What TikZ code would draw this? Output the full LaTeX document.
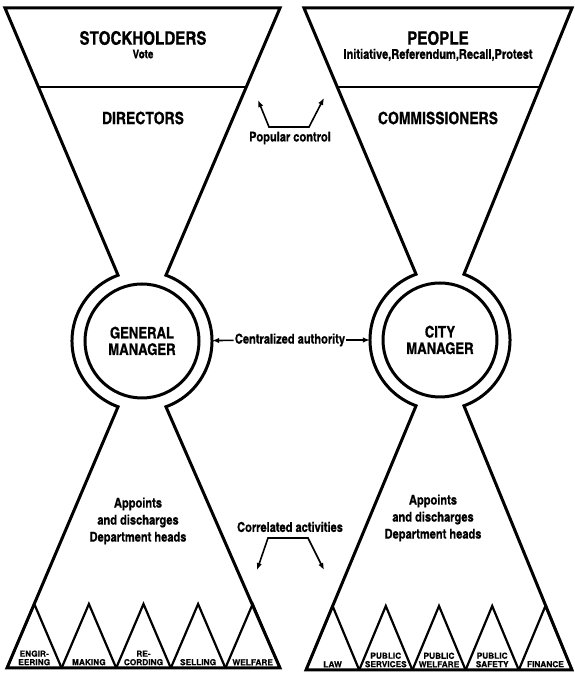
\documentclass[tikz,border=0pt]{standalone}
\usepackage{fontspec}
\setmainfont{TeX Gyre Heros}[FakeBold=0.4]
\newfontfamily\cnd{texgyreheroscn-bold.otf}[FakeBold=0.6]
\usetikzlibrary{arrows.meta, positioning, calc}
\tikzstyle{outline}=[line width=3pt, line join=miter]
\tikzstyle{bar}=[line width=2.4pt]
\tikzstyle{dept}=[line width=2.2pt, line join=miter]
\tikzstyle{arw}=[line width=1.6pt]
\tikzstyle{hub}=[circle, minimum size=140pt, inner sep=0pt]
\tikzstyle{ring}=[circle, draw, line width=3pt, minimum size=114pt, inner sep=0pt,
  font={\cnd\fontsize{16}{16.5}\selectfont}]
\tikzstyle{every node}=[font={\cnd\fontsize{13.5}{14}\selectfont}, align=center, inner sep=1pt]
\tikzstyle{head}=[font={\cnd\fontsize{18.5}{18}\selectfont}]
\tikzstyle{sub}=[font={\cnd\fontsize{17}{16}\selectfont}]
\tikzstyle{note}=[font={\cnd\fontsize{13.5}{17}\selectfont}]
\tikzstyle{lab}=[font={\bfseries\fontsize{8.3}{8.5}\selectfont}, anchor=south, inner sep=0pt]

\begin{document}
\begin{tikzpicture}[x=1pt, y=1pt, >={Latex[length=7pt,width=5.5pt]}]
  \useasboundingbox (0,0) rectangle (574,677);

  % company
  \coordinate (gmc) at (142,336);
  \node[hub] (gmo) at (gmc) {};
  \node[ring] (gm) at (gmc) {GENERAL\\MANAGER};
  \coordinate (st1) at (5,669);
  \coordinate (st2) at (280,669);
  \coordinate (gm1) at ($(gmc)+(110:70)$);
  \coordinate (gm2) at ($(gmc)+(70:70)$);
  \coordinate (gm3) at ($(gmc)+(-70:70)$);
  \draw[outline] (st1) -- (gm1) arc[start angle=110, end angle=250, radius=70]
    -- (7,9) -- (280,9) -- (gm3) arc[start angle=-70, end angle=70, radius=70]
    -- (st2) -- cycle;
  \draw[bar] ($(st1)!.296!(gm1)$) -- ($(st2)!.296!(gm2)$);
  \node[head] (stock) at (143,639) {STOCKHOLDERS};
  \node[below of=stock, node distance=16pt, font={\cnd\fontsize{12}{12}\selectfont}] (vote) {Vote};
  \node[sub] (dir) at (143,559) {DIRECTORS};
  \node[note] (appt1) at (138,156) {Appoints\\and discharges\\Department heads};
  \foreach \i/\t in {0/{ENGIR-\\EERING}, 1/MAKING, 2/{RE-\\CORDING}, 3/SELLING, 4/WELFARE} {
    \draw[dept] ({7+54.6*\i},9) -- ({34.3+54.6*\i},73) -- ({61.6+54.6*\i},9);
    \node[lab] at ({34.3+54.6*\i},11.5) {\t};
  }

  % city
  \coordinate (cmc) at (440,337);
  \node[hub] (cmo) at (cmc) {};
  \node[ring] (cm) at (cmc) {CITY\\MANAGER};
  \coordinate (pp1) at (304,669);
  \coordinate (pp2) at (572,669);
  \coordinate (cm1) at ($(cmc)+(110:70)$);
  \coordinate (cm2) at ($(cmc)+(70:70)$);
  \coordinate (cm3) at ($(cmc)+(-70:70)$);
  \draw[outline] (pp1) -- (cm1) arc[start angle=110, end angle=250, radius=70]
    -- (306,7) -- (572,7) -- (cm3) arc[start angle=-70, end angle=70, radius=70]
    -- (pp2) -- cycle;
  \draw[bar] ($(pp1)!.296!(cm1)$) -- ($(pp2)!.296!(cm2)$);
  \node[head] (people) at (438,639) {PEOPLE};
  \node[below of=people, node distance=17pt] (rights) {Initiative,Referendum,Recall,Protest};
  \node[sub] (comm) at (438,559) {COMMISSIONERS};
  \node[note] (appt2) at (433,159) {Appoints\\and discharges\\Department heads};
  \foreach \i/\t in {0/LAW, 1/{PUBLIC\\SERVICES}, 2/{PUBLIC\\WELFARE}, 3/{PUBLIC\\SAFETY}, 4/FINANCE} {
    \draw[dept] ({306+53.2*\i},7) -- ({332.6+53.2*\i},71) -- ({359.2+53.2*\i},7);
    \node[lab] at ({332.6+53.2*\i},9.5) {\t};
  }

  % between
  \node (pop) at (290,539) {Popular control};
  \coordinate (pop1) at (258,577);
  \coordinate (pop2) at (269,550);
  \coordinate (pop3) at (309,550);
  \coordinate (pop4) at (324,579);
  \draw[arw,<->] (pop1) -- (pop2) -- (pop3) -- (pop4);
  \node (auth) at (290,337) {Centralized authority};
  \draw[arw,->] (auth) -- (gmo);
  \draw[arw,->] (auth) -- (cmo);
  \node (corr) at (290,150) {Correlated activities};
  \coordinate (cor1) at (257,107);
  \coordinate (cor2) at (268,139);
  \coordinate (cor3) at (308,139);
  \coordinate (cor4) at (324,107);
  \draw[arw,<->] (cor1) -- (cor2) -- (cor3) -- (cor4);
\end{tikzpicture}
\end{document}
